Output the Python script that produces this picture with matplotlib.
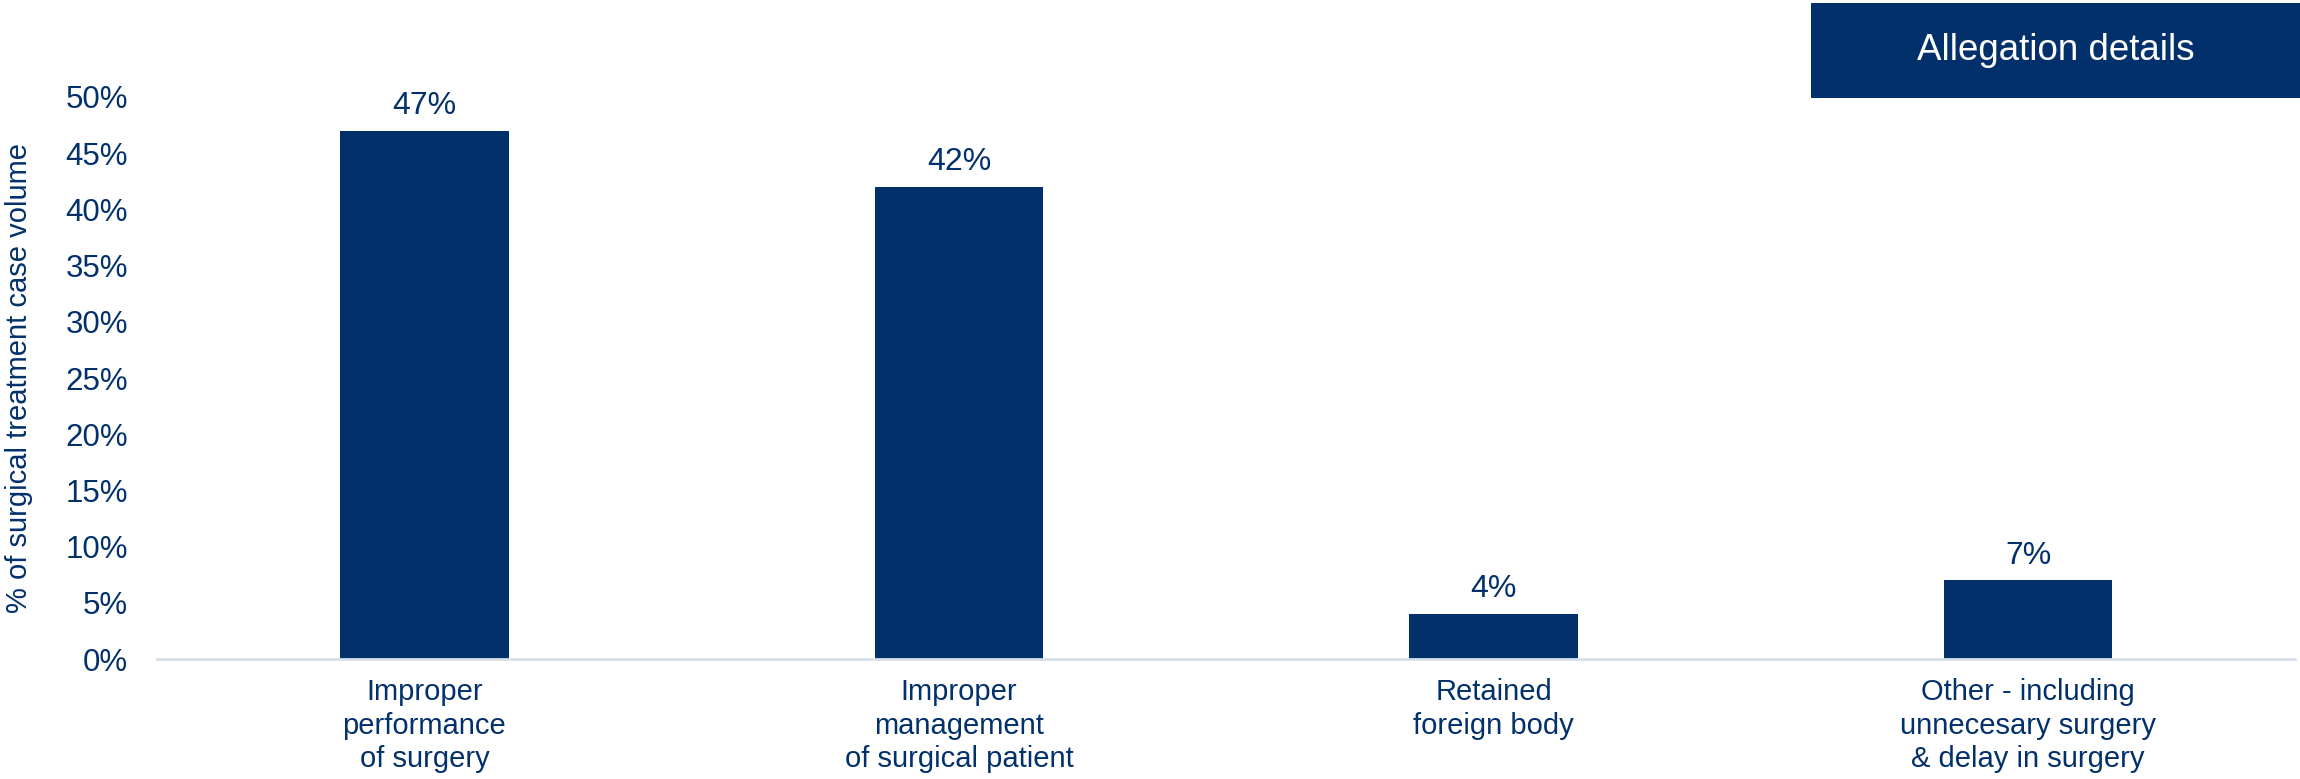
import matplotlib.pyplot as plt
from matplotlib.patches import Rectangle
from matplotlib.ticker import FuncFormatter, MultipleLocator

categories = [
    "Improper\nperformance\nof surgery",
    "Improper\nmanagement\nof surgical patient",
    "Retained\nforeign body",
    "Other - including\nunnecesary surgery\n& delay in surgery",
]
shares = [47, 42, 4, 7]

NAVY = "#02306B"
AXIS_GREY = "#D6E0EA"


def main():
    plt.rcParams["font.family"] = ["Liberation Sans", "DejaVu Sans"]

    fig = plt.figure(figsize=(23, 7.79), dpi=100)
    ax = fig.add_axes([0.0683, 0.154, 0.9297, 0.7215])

    x = range(len(categories))
    bars = ax.bar(x, shares, width=0.315, color=NAVY)

    for bar, value in zip(bars, shares):
        ax.annotate(
            f"{value}%",
            (bar.get_x() + bar.get_width() / 2, value),
            xytext=(0, 7),
            textcoords="offset points",
            ha="center",
            va="bottom",
            fontsize=23,
            color=NAVY,
        )

    ax.set_xlim(-0.5, len(categories) - 0.5)
    ax.set_ylim(0, 50)
    ax.yaxis.set_major_locator(MultipleLocator(5))
    ax.yaxis.set_major_formatter(FuncFormatter(lambda v, _: f"{v:.0f}%"))

    ax.set_xticks(list(x))
    ax.set_xticklabels(categories, fontsize=21, color=NAVY, linespacing=1.25)
    ax.tick_params(axis="x", length=0, pad=14)
    ax.tick_params(axis="y", length=0, pad=21, labelsize=22.5, labelcolor=NAVY)

    for side in ["top", "right", "left"]:
        ax.spines[side].set_visible(False)
    ax.spines["bottom"].set_color(AXIS_GREY)
    ax.spines["bottom"].set_linewidth(2)

    ax.set_ylabel("% of surgical treatment case volume", fontsize=21, color=NAVY)
    ax.yaxis.set_label_coords(-0.058, 0.5)

    # header box in the top-right corner
    fig.patches.append(
        Rectangle((0.7874, 0.874), 0.2126, 0.122, transform=fig.transFigure,
                  facecolor=NAVY, edgecolor="none")
    )
    fig.text(0.8937, 0.935, "Allegation details", ha="center", va="center",
             fontsize=26.5, color="white")

    fig.savefig("out.png", dpi=100)
    plt.close(fig)


if __name__ == "__main__":
    main()
